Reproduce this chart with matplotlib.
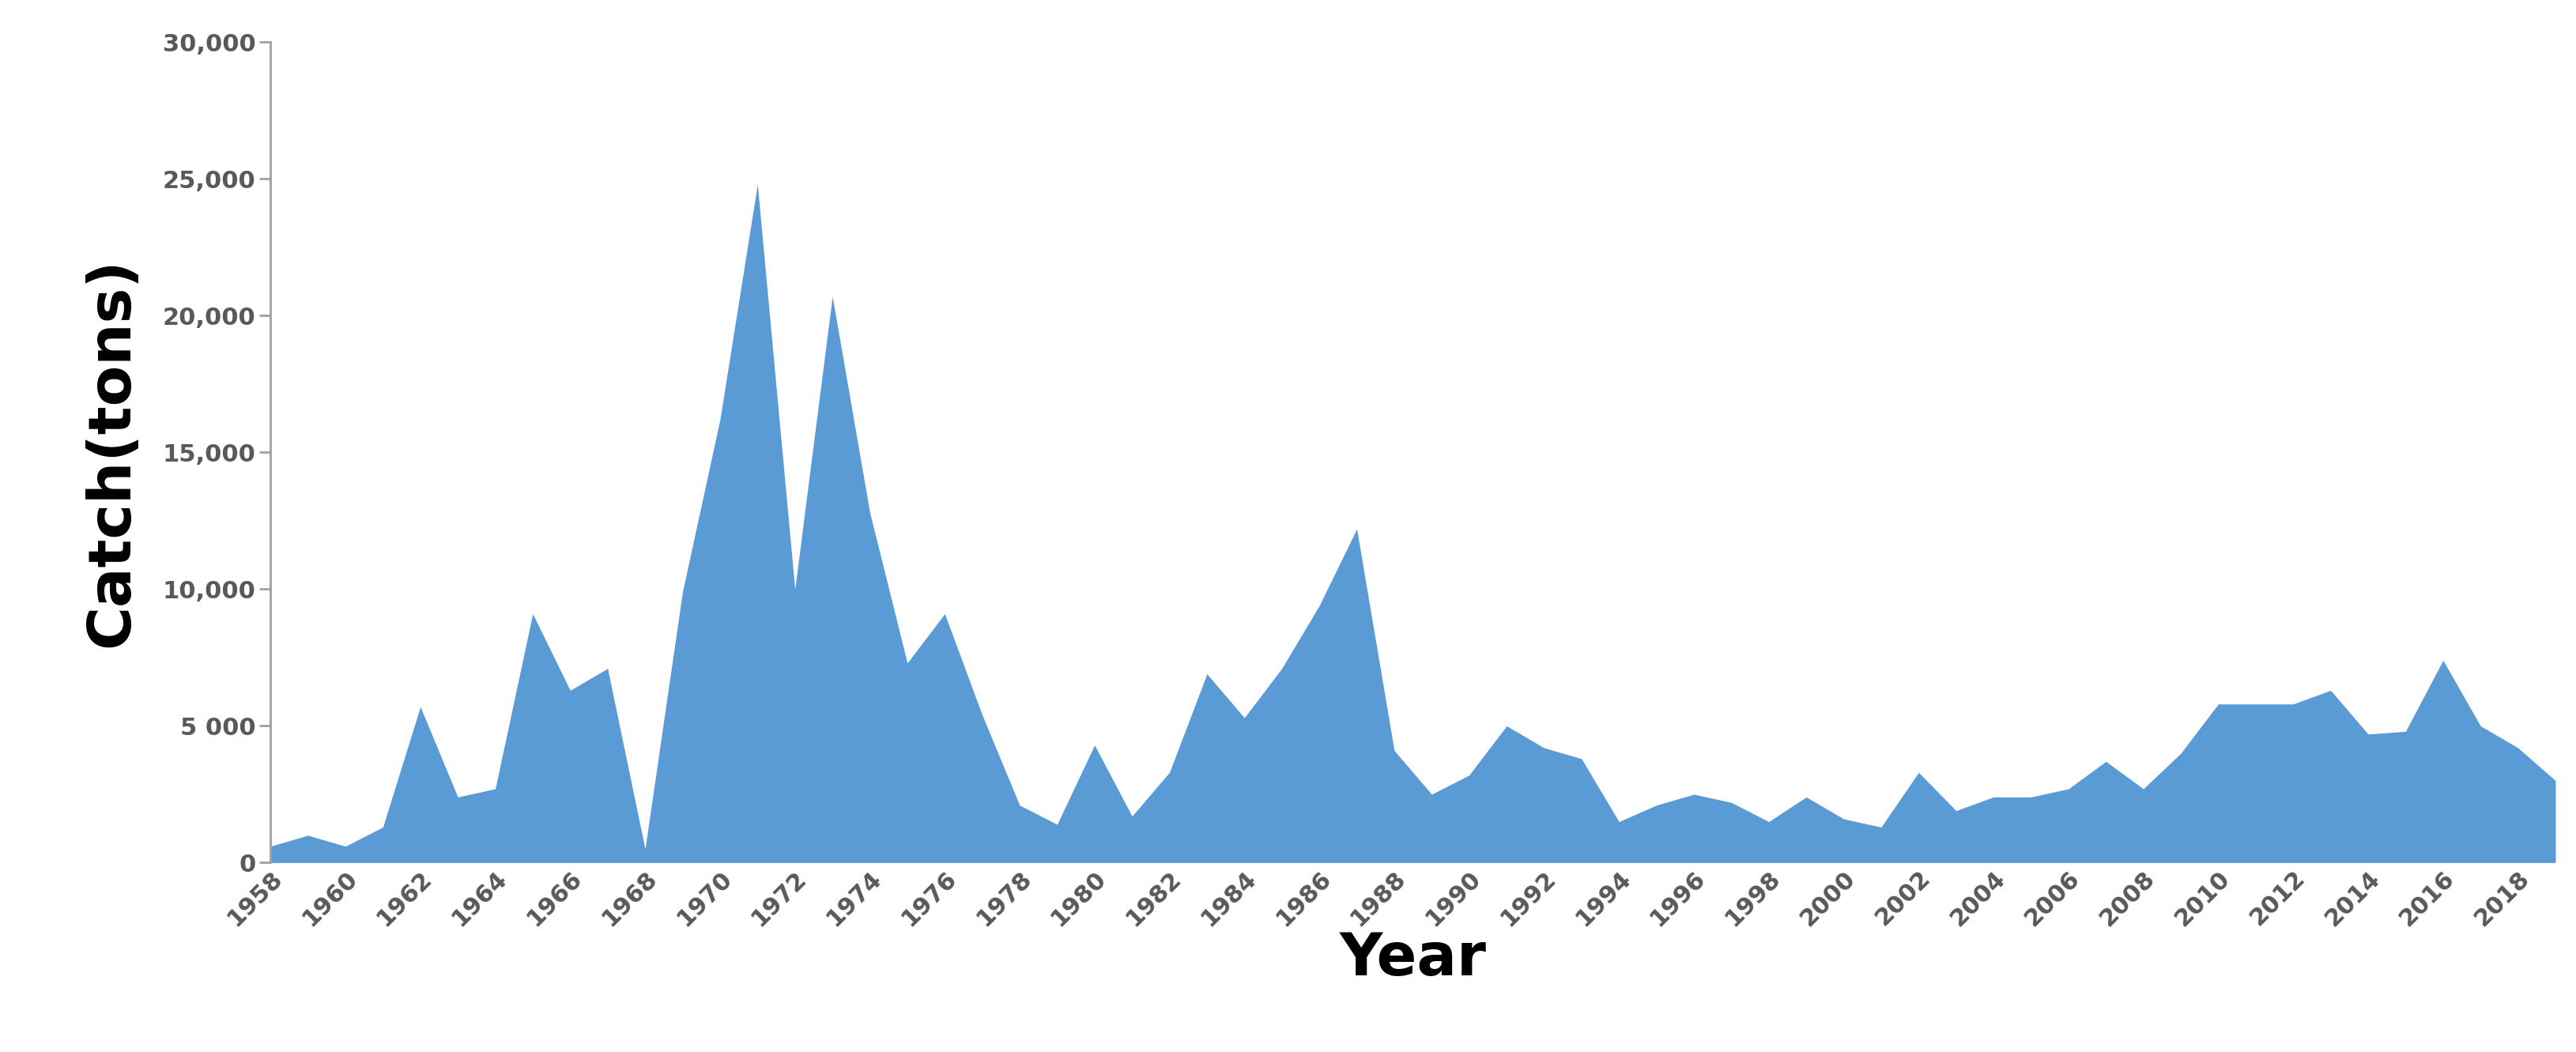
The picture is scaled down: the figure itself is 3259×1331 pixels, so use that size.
import matplotlib.pyplot as plt
from matplotlib.ticker import FuncFormatter

years = list(range(1958, 2020))
catch = [600, 1000, 600, 1300, 5700, 2400, 2700, 9100, 6300, 7100,
         500, 9900, 16200, 24800, 10000, 20700, 12800, 7300, 9100, 5400,
         2100, 1400, 4300, 1700, 3300, 6900, 5300, 7100, 9400, 12200,
         4100, 2500, 3200, 5000, 4200, 3800, 1500, 2100, 2500, 2200,
         1500, 2400, 1600, 1300, 3300, 1900, 2400, 2400, 2700, 3700,
         2700, 4000, 5800, 5800, 5800, 6300, 4700, 4800, 7400, 5000,
         4200, 3000]

fig = plt.figure(figsize=(32.59, 13.31), dpi=100)
ax = fig.add_axes([0.105, 0.18, 0.887, 0.78])
ax.fill_between(years, catch, 0, color='#5b9bd5', linewidth=0)

ax.set_xlim(1958, 2019)
ax.set_ylim(0, 30000)
ax.set_yticks(range(0, 30001, 5000))

def fmt(v, pos):
    v = int(v)
    if v == 0:
        return '0'
    if v == 5000:
        return '5 000'
    return f'{v:,}'

ax.yaxis.set_major_formatter(FuncFormatter(fmt))
ax.set_xticks(years[::2])
ax.set_xticklabels([str(y) for y in years[::2]], rotation=45, ha='right',
                   rotation_mode='anchor')

for s in ['top', 'right', 'bottom']:
    ax.spines[s].set_visible(False)
ax.spines['left'].set_color('#a0a0a0')
ax.spines['left'].set_linewidth(2)
ax.tick_params(axis='y', colors='#a0a0a0', length=10, width=2, labelcolor='#595959',
               labelsize=22)
ax.tick_params(axis='x', length=0, labelcolor='#595959', labelsize=22)
for lab in ax.get_xticklabels() + ax.get_yticklabels():
    lab.set_fontweight('bold')

ax.set_ylabel('Catch(tons)', fontsize=54, fontweight='bold', labelpad=20)
ax.set_xlabel('Year', fontsize=54, fontweight='bold', labelpad=0)

fig.savefig('out.png', dpi=100)
